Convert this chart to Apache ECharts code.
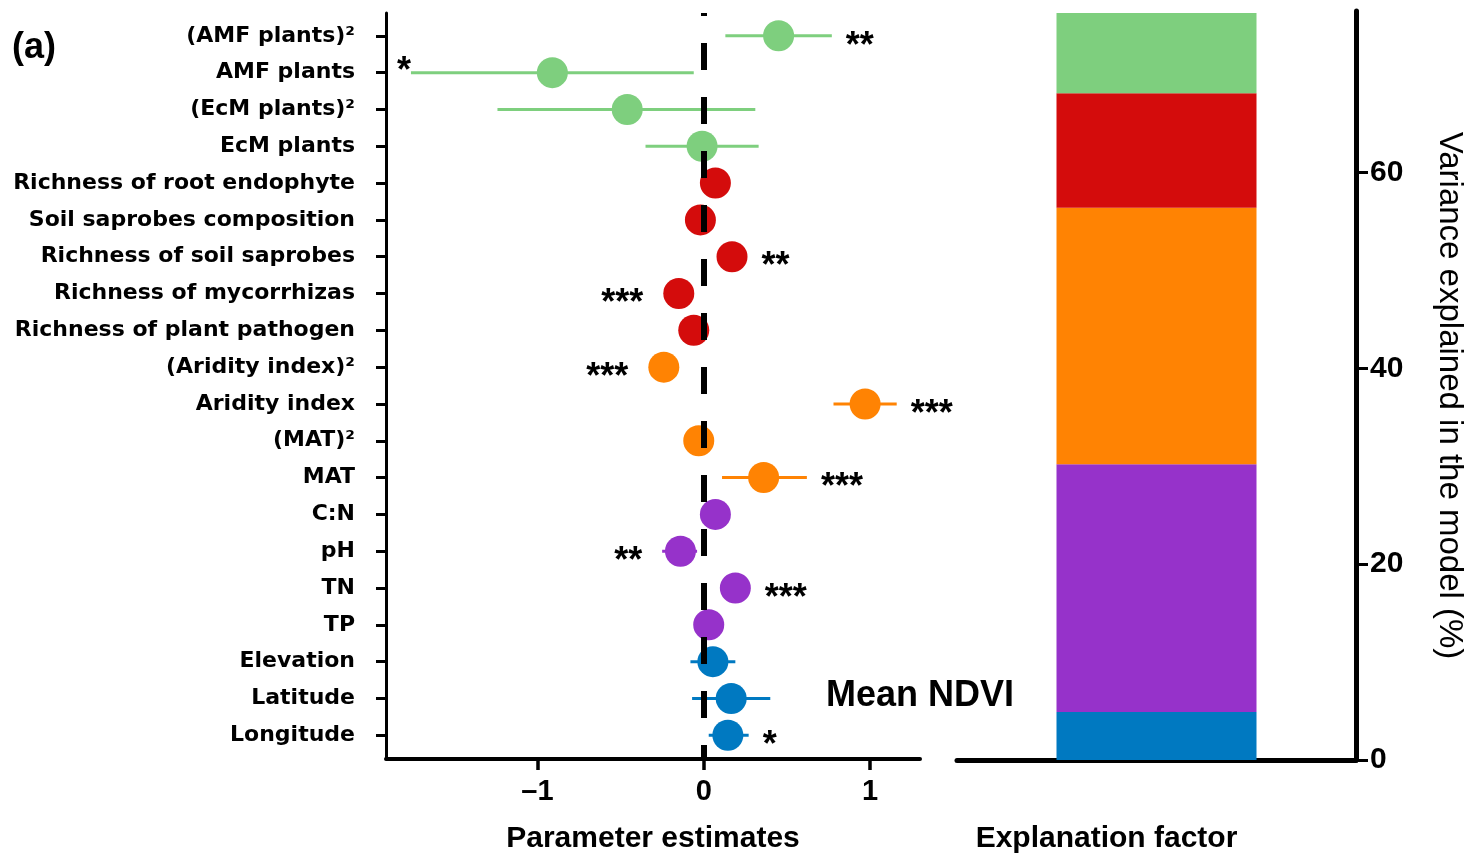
<!DOCTYPE html>
<html>
<head>
<meta charset="utf-8">
<script src="https://cdn.jsdelivr.net/npm/echarts@6/dist/echarts.min.js"></script>
<style>
  html, body { margin: 0; padding: 0; background: #fff; }
  #chart { width: 1467px; height: 859px; }
</style>
</head>
<body>
<div id="chart"></div>
<script>
// Predictors of mean NDVI, top to bottom
const predictors = [
  '(AMF plants)²', 'AMF plants', '(EcM plants)²', 'EcM plants',
  'Richness of root endophyte', 'Soil saprobes composition', 'Richness of soil saprobes',
  'Richness of mycorrhizas', 'Richness of plant pathogen',
  '(Aridity index)²', 'Aridity index', '(MAT)²', 'MAT',
  'C:N', 'pH', 'TN', 'TP',
  'Elevation', 'Latitude', 'Longitude'
];
// Standardised parameter estimates and their confidence limits
const estimates = [0.45, -0.91, -0.46, -0.01, 0.07, -0.02, 0.17, -0.15, -0.06, -0.24, 0.97, -0.03, 0.36, 0.07, -0.14, 0.19, 0.03, 0.055, 0.165, 0.145];
const ciLow     = [0.13, -1.76, -1.24, -0.35, 0.02, -0.07, 0.12, -0.20, -0.11, -0.29, 0.78, -0.08, 0.11, 0.02, -0.25, 0.14, -0.02, -0.08, -0.07, 0.03];
const ciHigh    = [0.77, -0.06, 0.31, 0.33, 0.12, 0.03, 0.22, -0.10, -0.01, -0.19, 1.16, 0.02, 0.62, 0.12, -0.04, 0.24, 0.08, 0.19, 0.40, 0.27];
const significance = ['**', '*', '', '', '', '', '**', '***', '', '***', '***', '', '***', '', '**', '***', '', '', '', '*'];

// Predictor groups, listed bottom to top of the stacked bar
const groups = ['Geography', 'Soil properties', 'Climate', 'Soil fungi', 'Plants'];
const groupColors = ['#0079c1', '#9632ca', '#ff8303', '#d40c0c', '#7ecf7e'];
const predictorGroup = [4, 4, 4, 4, 3, 3, 3, 3, 3, 2, 2, 2, 2, 1, 1, 1, 1, 0, 0, 0];
// Variance explained in the model (%) by each group
const varianceExplained = [4.9, 25.3, 26.2, 11.7, 8.2];

const estimateTicks = [-1, 0, 1];
const varianceTicks = [0, 20, 40, 60];
const ESTIMATE_MIN = -1.91;
const ESTIMATE_MAX = 1.30;

const DOT_SIZE = 31;
const STAR_SIZE = 36;
const LABEL_FONT = '"DejaVu Sans", sans-serif';
const MAIN_FONT = '"Liberation Sans", Arial, Helvetica, sans-serif';

const chart = echarts.init(document.getElementById('chart'), null, { renderer: 'canvas' });

// Confidence interval bar plus significance stars beyond its outer end
function renderErrorBar(params, api) {
  const i = params.dataIndex;
  const row = api.value(0);
  const est = api.value(3);
  const lo = api.coord([api.value(1), row]);
  const hi = api.coord([api.value(2), row]);
  const mid = api.coord([est, row]);
  const plotLeft = api.coord([ESTIMATE_MIN, row])[0];
  const color = groupColors[predictorGroup[i]];
  const children = [{
    type: 'line',
    shape: { x1: lo[0], y1: lo[1], x2: hi[0], y2: hi[1] },
    style: { stroke: color, lineWidth: 3 }
  }];
  const mark = significance[i];
  if (mark) {
    const r = DOT_SIZE / 2;
    const toRight = est >= 0;
    let x, y = mid[1] + 0.3 * STAR_SIZE;
    if (toRight) {
      x = Math.max(hi[0], mid[0] + r) + 14;
    } else {
      x = Math.min(lo[0], mid[0] - r) - 20;
      const minRight = plotLeft + 25;
      if (x < minRight) {
        // no room left of the interval: sit just above its end
        x = minRight;
        y -= 11;
      }
    }
    children.push({
      type: 'text',
      style: {
        text: mark, x: x, y: y,
        fill: '#000', font: 'bold ' + STAR_SIZE + 'px ' + MAIN_FONT,
        align: toRight ? 'left' : 'right', verticalAlign: 'middle'
      }
    });
  }
  return { type: 'group', children: children };
}

const axisBlack = '#000';

const option = {
  animation: false,
  backgroundColor: '#fff',
  grid: [
    { left: 386, right: 547, top: 13, bottom: 92 },
    { left: 957, right: 108, top: 11, bottom: 98 }
  ],
  xAxis: [
    {
      gridIndex: 0, type: 'value', min: ESTIMATE_MIN, max: ESTIMATE_MAX,
      name: 'Parameter estimates', nameLocation: 'middle', nameGap: 65,
      nameTextStyle: { fontFamily: MAIN_FONT, fontWeight: 'bold', fontSize: 30, color: '#000' },
      axisLine: { onZero: false, lineStyle: { color: axisBlack, width: 4 } },
      axisTick: { customValues: estimateTicks, length: 11, lineStyle: { color: axisBlack, width: 3.5 } },
      axisLabel: {
        customValues: estimateTicks, margin: 18,
        fontFamily: MAIN_FONT, fontWeight: 'bold', fontSize: 29, color: '#000',
        formatter: v => (v < 0 ? '–' + Math.abs(v) : String(v))
      },
      splitLine: { show: false }
    },
    {
      gridIndex: 1, type: 'category', data: ['Mean NDVI'],
      name: 'Explanation factor', nameLocation: 'middle', nameGap: 64,
      nameTextStyle: { fontFamily: MAIN_FONT, fontWeight: 'bold', fontSize: 30, color: '#000', padding: [0, 100, 0, 0] },
      axisLine: { lineStyle: { color: axisBlack, width: 5 } },
      axisTick: { alignWithLabel: true, length: 13, lineStyle: { color: axisBlack, width: 5 } },
      axisLabel: { show: false }
    }
  ],
  yAxis: [
    {
      gridIndex: 0, type: 'value', inverse: true, min: -0.62, max: 19.645,
      axisLine: { onZero: false, lineStyle: { color: axisBlack, width: 3 } },
      axisTick: { customValues: predictors.map((_, i) => i), length: 10, lineStyle: { color: axisBlack, width: 3 } },
      axisLabel: {
        customValues: predictors.map((_, i) => i), margin: 31,
        fontFamily: LABEL_FONT, fontWeight: 'bold', fontSize: 22, color: '#000',
        formatter: v => predictors[v]
      },
      splitLine: { show: false }
    },
    {
      gridIndex: 1, type: 'value', position: 'right', min: 0, max: 76.5,
      name: 'Variance explained in the model (%)', nameLocation: 'middle', nameGap: 77, nameRotate: -90,
      nameTextStyle: { fontFamily: MAIN_FONT, fontSize: 33, color: '#000', padding: [0, 0, 0, 20] },
      axisLine: { show: true, lineStyle: { color: axisBlack, width: 5 } },
      axisTick: { show: true, customValues: varianceTicks, length: 12, lineStyle: { color: axisBlack, width: 3 } },
      axisLabel: {
        customValues: varianceTicks, margin: 14,
        fontFamily: MAIN_FONT, fontWeight: 'bold', fontSize: 30, color: '#000'
      },
      splitLine: { show: false }
    }
  ],
  graphic: [
    { type: 'text', left: 12, top: 30, style: { text: '(a)', font: 'bold 36px ' + MAIN_FONT, fill: '#000' } },
    { type: 'text', left: 826, top: 678, style: { text: 'Mean NDVI', font: 'bold 36px ' + MAIN_FONT, fill: '#000' } }
  ],
  series: [
    {
      type: 'custom', name: 'Confidence interval', xAxisIndex: 0, yAxisIndex: 0, z: 2,
      renderItem: renderErrorBar,
      encode: { x: [1, 2, 3], y: 0 },
      data: predictors.map((_, i) => [i, ciLow[i], ciHigh[i], estimates[i]])
    },
    {
      type: 'scatter', name: 'Estimate', xAxisIndex: 0, yAxisIndex: 0, z: 3,
      symbol: 'circle', symbolSize: DOT_SIZE,
      data: predictors.map((_, i) => ({
        value: [estimates[i], i],
        itemStyle: { color: groupColors[predictorGroup[i]], opacity: 1 }
      }))
    },
    {
      type: 'line', name: 'Zero', xAxisIndex: 0, yAxisIndex: 0, z: 5,
      data: [], showSymbol: false,
      markLine: {
        silent: true, symbol: 'none', label: { show: false },
        lineStyle: { color: '#000', width: 6, type: [27, 27], dashOffset: 24 },
        data: [{ xAxis: 0 }]
      }
    },
    ...groups.map((g, k) => ({
      type: 'bar', name: g, xAxisIndex: 1, yAxisIndex: 1, stack: 'variance',
      barWidth: 200,
      itemStyle: { color: groupColors[k] },
      data: [varianceExplained[k]]
    }))
  ]
};

chart.setOption(option);
</script>
</body>
</html>
